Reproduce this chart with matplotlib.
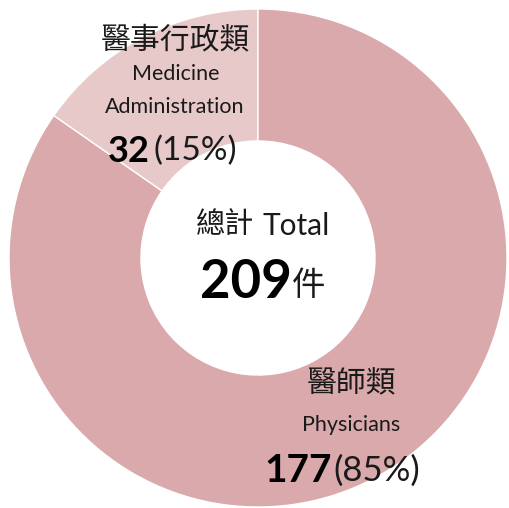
import matplotlib
matplotlib.use('Agg')
import matplotlib.pyplot as plt

# 資料
labels_zh = ['醫事行政類', '醫師類']
labels_en = ['Medicine\nAdministration', 'Physicians']
counts = [32, 177]
percents = ['(15%)', '(85%)']
total = 209
colors = ['#E8C9CA', '#D9A9AB']

W, H = 510, 508
fig = plt.figure(figsize=(W / 100, H / 100), dpi=100)
ax = fig.add_axes([0, 0, 1, 1])

cx, cy, r = 258, H - 258, 249
ax.pie(counts, colors=colors, startangle=90, counterclock=True,
       center=(cx, cy), radius=r, frame=True,
       wedgeprops=dict(width=r * 0.53, edgecolor='white', linewidth=1))
ax.set_xlim(0, W)
ax.set_ylim(0, H)
ax.set_aspect('equal')
ax.axis('off')

fam = ['Lato', 'Noto Sans CJK TC']
zh = ['Noto Sans CJK TC', 'Lato']
dark = '#1a1a1a'

def py(y):
    return H - y

# 醫事行政類
ax.text(175, py(40), labels_zh[0], fontsize=21.5, family=zh, ha='center', va='center', color=dark)
ax.text(176, py(74), 'Medicine', fontsize=15.5, family=fam, ha='center', va='center', color=dark)
ax.text(175, py(107), 'Administration', fontsize=15.5, family=fam, ha='center', va='center', color=dark)
ax.text(150, py(151), str(counts[0]), fontsize=26, family=fam, weight='bold', ha='right', va='center', color='black')
ax.text(154, py(151), percents[0], fontsize=24, family=fam, ha='left', va='center', color=dark)

# 總計
ax.text(225, py(225), '總計', fontsize=21, family=zh, ha='center', va='center', color=dark)
ax.text(263, py(226), 'Total', fontsize=21.5, family=fam, ha='left', va='center', color=dark)
ax.text(292, py(283), str(total), fontsize=38, family=fam, weight='bold', ha='right', va='center', color='black')
ax.text(292, py(285), '件', fontsize=24, family=zh, ha='left', va='center', color=dark)

# 醫師類
ax.text(352, py(384), labels_zh[1], fontsize=21.5, family=zh, ha='center', va='center', color=dark)
ax.text(351, py(425), labels_en[1], fontsize=15.5, family=fam, ha='center', va='center', color=dark)
ax.text(332, py(471), str(counts[1]), fontsize=28, family=fam, weight='bold', ha='right', va='center', color='black')
ax.text(333, py(471), percents[1], fontsize=25, family=fam, ha='left', va='center', color=dark)

fig.savefig('out.png', dpi=100)
